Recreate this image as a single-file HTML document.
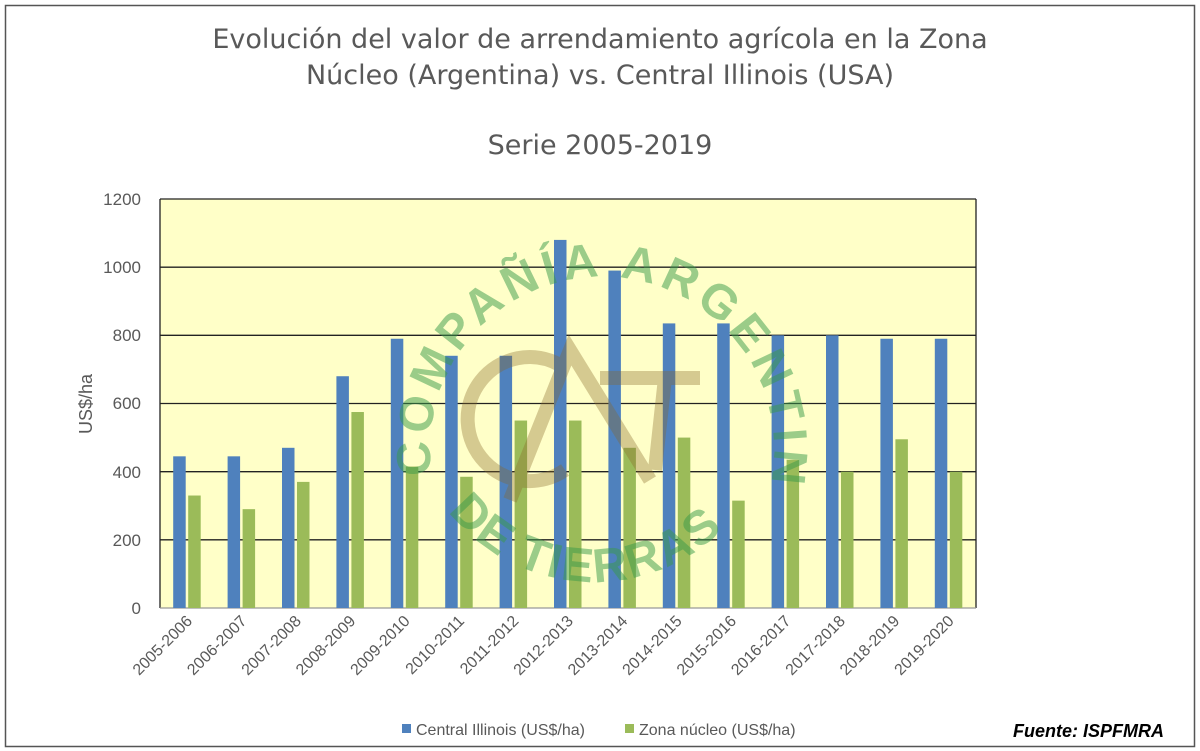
<!DOCTYPE html>
<html><head><meta charset="utf-8"><style>
html,body{margin:0;padding:0;background:#fff;}
svg{display:block;font-family:"Liberation Sans",sans-serif;}
</style></head><body>
<svg width="1200" height="751" viewBox="0 0 1200 751" xmlns="http://www.w3.org/2000/svg">
<rect x="0" y="0" width="1200" height="751" fill="#fff"/>
<rect x="5.5" y="5.5" width="1189" height="741" fill="none" stroke="#555" stroke-width="1.5"/>
<g fill="#595959" font-size="27" text-anchor="middle" style="font-family:'DejaVu Sans',sans-serif">
<text x="600" y="48">Evolución del valor de arrendamiento agrícola en la Zona</text>
<text x="600" y="84">Núcleo (Argentina) vs. Central Illinois (USA)</text>
<text x="600" y="154">Serie 2005-2019</text>
</g>
<rect x="160" y="199" width="816" height="409" fill="#ffffc8"/>
<g stroke="#222" stroke-width="1.3">
<line x1="160" y1="199" x2="976" y2="199"/>
<line x1="160" y1="267.2" x2="976" y2="267.2"/>
<line x1="160" y1="335.3" x2="976" y2="335.3"/>
<line x1="160" y1="403.5" x2="976" y2="403.5"/>
<line x1="160" y1="471.7" x2="976" y2="471.7"/>
<line x1="160" y1="539.8" x2="976" y2="539.8"/>
<line x1="160" y1="199" x2="160" y2="608"/>
<line x1="976" y1="199" x2="976" y2="608"/>
</g>
<line x1="160" y1="608" x2="976" y2="608" stroke="#999" stroke-width="1.3"/>
<g fill="#595959" font-size="17" text-anchor="end">
<text x="141" y="205">1200</text><text x="141" y="273">1000</text><text x="141" y="341">800</text>
<text x="141" y="409">600</text><text x="141" y="478">400</text><text x="141" y="546">200</text><text x="141" y="614">0</text>
</g>
<text transform="translate(92,404) rotate(-90)" fill="#595959" font-size="18" text-anchor="middle">US$/ha</text>
<g id="bars"></g>
<g opacity="0.5" font-size="48" font-weight="bold" fill="#3a9a4a">
<defs><path id="arc" d="M 432,475 A 172,172 0 1 1 772,475"/><path id="arc2" d="M 440,500 A 185,185 0 0 0 740,510"/></defs>
<text><textPath href="#arc" textLength="640" lengthAdjust="spacing">COMPAÑÍA ARGENTINA</textPath></text>
<text><textPath href="#arc2" startOffset="4%" textLength="310" lengthAdjust="spacing">DE TIERRAS</textPath></text>
</g>
<g opacity="0.35" fill="none" stroke="#8a6a2a" stroke-width="14">
<path d="M560,365 A62,62 0 1 0 565,470"/>
<path d="M510,500 L570,350 L650,480"/>
<path d="M600,378 L700,378 M665,378 L655,470"/>
</g>
<g id="labels" fill="#595959" font-size="16" text-anchor="end"></g>
<rect x="402" y="724" width="9" height="9" fill="#4f81bd"/>
<text x="416" y="735" fill="#595959" font-size="16">Central Illinois (US$/ha)</text>
<rect x="625" y="724" width="9" height="9" fill="#9bbb59"/>
<text x="639" y="735" fill="#595959" font-size="16">Zona núcleo (US$/ha)</text>
<text x="1164" y="737" fill="#000" font-size="18" font-weight="bold" font-style="italic" text-anchor="end">Fuente: ISPFMRA</text>
<script>
var b=[445,445,470,680,790,740,740,1080,990,835,835,800,800,790,790];
var g=[330,290,370,575,415,385,550,550,470,500,315,435,400,495,400];
var ns="http://www.w3.org/2000/svg",bars=document.getElementById('bars'),lab=document.getElementById('labels');
var k=409/1200;
for(var i=0;i<15;i++){
 var c=160+54.4*(i+0.5);
 var r=document.createElementNS(ns,'rect');r.setAttribute('x',c-14);r.setAttribute('width',12.5);r.setAttribute('y',608-b[i]*k);r.setAttribute('height',b[i]*k);r.setAttribute('fill','#4f81bd');bars.appendChild(r);
 r=document.createElementNS(ns,'rect');r.setAttribute('x',c+1);r.setAttribute('width',12.5);r.setAttribute('y',608-g[i]*k);r.setAttribute('height',g[i]*k);r.setAttribute('fill','#9bbb59');bars.appendChild(r);
 var t=document.createElementNS(ns,'text');t.setAttribute('transform','translate('+(c+6)+',622) rotate(-45)');
 t.textContent=(2005+i)+'-'+(2006+i);lab.appendChild(t);
}
</script>
</svg>
</body></html>
